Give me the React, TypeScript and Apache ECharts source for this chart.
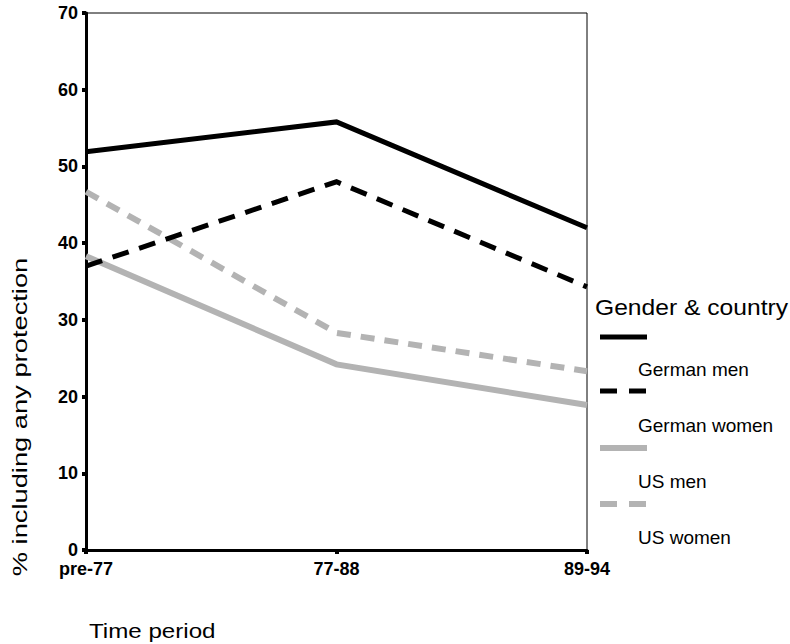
import React, { useEffect, useRef } from "react";
import * as echarts from "echarts";

const categories = ["pre-77", "77-88", "89-94"];
const germanMen = [51.9, 55.8, 42.0];
const germanWomen = [37.0, 48.0, 34.3];
const usMen = [38.3, 24.2, 18.9];
const usWomen = [46.7, 28.3, 23.3];
const yTicks = { min: 0, max: 70, interval: 10 };
const legendNames = ["German men", "German women", "US men", "US women"];

const FONT = "'Liberation Sans', Arial, Helvetica, sans-serif";
const GREY = "#b3b3b3";

export default function App() {
  const ref = useRef<HTMLDivElement>(null);
  useEffect(() => {
    document.body.style.margin = "0";
    const chart = echarts.init(ref.current!, null, { renderer: "svg" });
    const styles = [
      { color: "#000", width: 5, type: "solid" as any },
      { color: "#000", width: 5, type: [17, 11] as any },
      { color: GREY, width: 6, type: "solid" as any },
      { color: GREY, width: 6, type: [14, 10] as any },
    ];
    const datas = [germanMen, germanWomen, usMen, usWomen];
    const legendSampleY = [337, 391, 448, 504];
    const legendLabelY = [369, 425, 481, 537];
    const graphics: any[] = [
      {
        type: "text",
        x: 20,
        y: 417,
        rotation: Math.PI / 2,
        scaleX: 1.3,
        style: {
          text: "% including any protection",
          font: `21px ${FONT}`,
          fill: "#000",
          textAlign: "center",
          textVerticalAlign: "middle",
        },
      },
      {
        type: "text",
        x: 89,
        y: 631,
        scaleX: 1.15,
        style: {
          text: "Time period",
          font: `21px ${FONT}`,
          fill: "#000",
          textAlign: "left",
          textVerticalAlign: "middle",
        },
      },
      {
        type: "text",
        x: 595,
        y: 307,
        scaleX: 1.12,
        style: {
          text: "Gender & country",
          font: `22px ${FONT}`,
          fill: "#000",
          textAlign: "left",
          textVerticalAlign: "middle",
        },
      },
    ];
    legendNames.forEach((name, i) => {
      const s = styles[i];
      graphics.push({
        type: "line",
        shape: { x1: 600, y1: legendSampleY[i], x2: 647, y2: legendSampleY[i] },
        style: {
          stroke: s.color,
          lineWidth: s.width,
          lineDash: Array.isArray(s.type) ? [17, 12] : null,
        },
      });
      graphics.push({
        type: "text",
        x: 638,
        y: legendLabelY[i],
        style: {
          text: name,
          font: `19px ${FONT}`,
          fill: "#000",
          textAlign: "left",
          textVerticalAlign: "middle",
        },
      });
    });

    chart.setOption({
      animation: false,
      backgroundColor: "#fff",
      grid: {
        left: 86,
        right: 203,
        top: 13,
        bottom: 94,
        show: true,
        borderColor: "#000",
        borderWidth: 1,
        backgroundColor: "transparent",
      },
      xAxis: {
        type: "category",
        data: categories,
        boundaryGap: false,
        axisLine: { lineStyle: { color: "#000", width: 3 } },
        axisTick: {
          show: true,
          alignWithLabel: true,
          length: 4,
          lineStyle: { color: "#000", width: 4 },
        },
        axisLabel: {
          color: "#000",
          fontWeight: "bold",
          fontSize: 18,
          fontFamily: FONT,
          margin: 10,
        },
        splitLine: { show: false },
      },
      yAxis: {
        type: "value",
        min: yTicks.min,
        max: yTicks.max,
        interval: yTicks.interval,
        axisLine: { show: true, lineStyle: { color: "#000", width: 3 } },
        axisTick: { show: true, length: 4, lineStyle: { color: "#000", width: 4 } },
        axisLabel: {
          color: "#000",
          fontWeight: "bold",
          fontSize: 18,
          fontFamily: FONT,
          margin: 8,
        },
        splitLine: { show: false },
      },
      series: legendNames.map((name, i) => ({
        name,
        type: "line",
        data: datas[i],
        symbol: "none",
        z: 10 - i,
        lineStyle: {
          color: styles[i].color,
          width: styles[i].width,
          type: styles[i].type,
          cap: "butt",
          join: "miter",
        },
      })),
      graphic: graphics,
    });
    return () => chart.dispose();
  }, []);
  return <div ref={ref} style={{ width: 790, height: 644 }} />;
}
